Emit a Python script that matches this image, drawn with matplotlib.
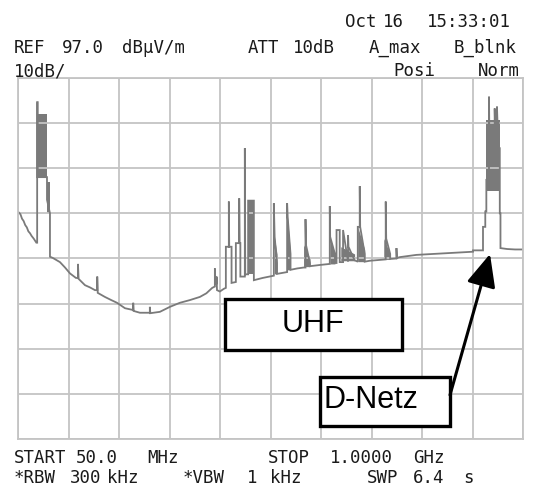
import matplotlib
matplotlib.use("Agg")
import matplotlib.pyplot as plt
import numpy as np
from matplotlib.patches import Rectangle

# analyzer settings
f_start, f_stop = 50.0, 1000.0      # MHz
ref_level, db_per_div = 97.0, 10.0
n_xdiv, n_ydiv = 10, 8

# main trace (MHz, dBuV/m)
trace_mhz = [50, 54, 57, 60, 63, 66, 69, 72, 75, 79, 84, 85.5, 85.5, 86.5, 86.5, 104, 104, 109.6, 109.6,
             115.3, 128.4, 138, 147.3, 158.5, 162.3, 162.3, 163.5, 175.5, 185, 194.3, 198.6, 198.6, 199.5,
             213, 225, 235.8, 250.8, 266.3, 266.3, 267, 278.9, 297.6, 297.6, 298.5, 316.5, 335.3, 354.1,
             373, 391.8, 404, 415, 420, 420, 421, 423.2, 423.2, 424, 429.4, 437, 440.7, 440.7, 446.3,
             446.3, 447, 451.4, 451.4, 459.5, 459.5, 465.8, 465.8, 466.5, 468, 468, 476.4, 476.4, 477.2,
             482.6, 482.6, 493.4, 493.4, 510, 530, 531, 531, 532.5, 537, 537, 556, 556, 557, 562.4, 562.4,
             575, 587, 590.6, 590.6, 591.5, 599, 599, 620, 636.3, 636.3, 637, 646, 646, 649, 649, 655,
             655, 661.3, 661.3, 670.7, 670.7, 671.5, 683, 689, 689, 692.7, 692.7, 693.5, 702.1, 702.1,
             711.5, 730.3, 738, 741.6, 741.6, 742.5, 750, 750, 761.8, 761.8, 762.6, 768, 799.4, 862,
             905.9, 905.9, 924.7, 924.7, 929, 929, 931, 931, 936, 936, 937, 946.7, 946.7, 948, 951, 951,
             952, 954, 954, 956.3, 956.3, 957.6, 957.6, 970, 985, 1000]
trace_db = [67.3, 66.8, 65.8, 65.3, 64.4, 63.9, 63.0, 62.6, 62.0, 61.4, 60.5, 60.5, 91.6, 91.6, 75, 75, 70, 67, 57.4,
            57.1, 56.2, 55.0, 53.7, 52.7, 52.7, 55.8, 52.5, 51.1, 50.6, 50.0, 50.0, 53.0, 49.4,
            48.5, 47.8, 47.2, 46.0, 45.6, 47.2, 45.4, 45.0, 45.0, 46.3, 44.9, 45.2, 46.3, 47.2,
            47.8, 48.5, 49.3, 50.5, 50.8, 54.8, 51.5, 51.5, 53.0, 50.0, 49.7, 50.3, 50.5, 59.6, 59.6,
            69.6, 59.6, 59.6, 51.6, 51.8, 60.4, 60.4, 70.3, 60.4, 60.4, 53.0, 53.0, 81.4, 53.5,
            53.5, 69.8, 69.8, 52.2, 52.7, 53.2, 53.2, 69.2, 61.8, 56.0, 53.6, 54.0, 69.2, 66.2, 58.0, 54.5,
            54.8, 55.0, 55.0, 65.7, 60.0, 56.0, 55.3, 55.6, 55.8, 68.6, 61.8, 58.0, 56.0, 56.0, 63.3, 63.3,
            56.2, 56.2, 63.3, 56.3, 62.2, 59.6, 56.6, 56.3, 64.0, 64.0, 73.0, 64.0, 58.0, 56.3,
            56.5, 56.7, 56.8, 56.8, 69.6, 61.4, 58.0, 56.9, 57.0, 59.3, 57.1, 57.3, 57.8, 58.2,
            58.5, 58.8, 58.8, 64.0, 64.0, 67.4, 67.4, 74.4, 74.4, 92.8, 80.0, 80.0, 90.2, 84.0, 84.0, 90.6,
            87.0, 87.0, 81.4, 81.4, 67.0, 67.0, 59.3, 59.1, 59.0, 59.0]

# dense bursts drawn as grey blocks: start, stop, floor, top at start, top at stop
burst_f0 = [87, 104, 482.6, 532, 556.7, 587, 636.5, 657, 689, 738, 931]
burst_f1 = [104, 109.6, 493.4, 537, 562.4, 599, 646, 683, 702, 750, 956]
burst_lo = [75, 67, 53.5, 53.6, 54.5, 55.2, 55.8, 56.5, 56.3, 56.8, 72.0]
burst_top0 = [89, 74, 69.8, 61.8, 66.2, 60.0, 61.8, 59.6, 64.0, 61.4, 87.6]
burst_top1 = [89, 74, 69.8, 58.0, 58.0, 57.0, 58.0, 58.0, 59.0, 58.0, 87.6]

W, H = 541, 487
fig = plt.figure(figsize=(W / 100, H / 100), dpi=100)
fig.patch.set_facecolor("white")

# plot frame in pixels: left 18, right 523, top 78, bottom 439
L, R, T, B = 18.3, 523.0, 77.7, 439.3
ax = fig.add_axes([L / W, 1 - B / H, (R - L) / W, (B - T) / H])
ax.set_xlim(f_start, f_stop)
ax.set_ylim(ref_level - n_ydiv * db_per_div, ref_level)
ax.set_xticks(np.linspace(f_start, f_stop, n_xdiv + 1))
ax.set_yticks(np.linspace(ref_level - n_ydiv * db_per_div, ref_level, n_ydiv + 1))
ax.tick_params(length=0, labelbottom=False, labelleft=False)
ax.grid(True, color="#c4c4c4", lw=1.3)
for s in ax.spines.values():
    s.set_color("#c4c4c4")
    s.set_linewidth(1.3)

grey = "#7a7a7a"
for f0, f1, lo, t0, t1 in zip(burst_f0, burst_f1, burst_lo, burst_top0, burst_top1):
    ax.fill_between([f0, f1], [lo, lo], [t0, t1], color=grey, lw=0)
ax.plot(trace_mhz, trace_db, color=grey, lw=1.3, solid_joinstyle="miter")

# screen annotations, pixel positions (x left, y baseline from top)
def px(x, y):
    return x / W, 1 - y / H

mono = dict(family="DejaVu Sans Mono", fontsize=12.5, color="#1a1a1a", va="baseline", ha="left")
words = [
    ("Oct", 345, 26.7), ("16", 383, 26.7), ("15:33:01", 427, 26.7),
    ("REF", 14, 53), ("97.0", 62, 53), ("dBµV/m", 122, 53), ("ATT", 248, 53), ("10dB", 293, 53),
    ("A_max", 369, 53), ("B_blnk", 454, 53),
    ("10dB/", 14, 76), ("Posi", 393, 76), ("Norm", 478, 76),
    ("START", 14, 463), ("50.0", 76, 463), ("MHz", 147, 463),
    ("STOP", 268, 463), ("1.0000", 330, 463), ("GHz", 413, 463),
    ("*RBW", 14, 483), ("300", 70, 483), ("kHz", 107, 483), ("*VBW", 183, 483), ("1", 247, 483),
    ("kHz", 270, 483), ("SWP", 367, 483), ("6.4", 413, 483), ("s", 463, 483),
]
for txt, x, y in words:
    fig.text(*px(x, y), txt, **mono)

# labelled boxes
def box(x0, y0, x1, y1):
    fig.patches.append(Rectangle(px(x0, y1), (x1 - x0) / W, (y1 - y0) / H, transform=fig.transFigure,
                                 facecolor="white", edgecolor="black", lw=2.4, zorder=5))

box(225, 299, 402, 350)
fig.text(*px(313, 331.5), "UHF", family="Liberation Sans", fontsize=22, ha="center", va="baseline", zorder=6)
box(320, 377, 450, 426)
fig.text(*px(323, 408.5), "D-Netz", family="Liberation Sans", fontsize=22, ha="left", va="baseline", zorder=6)

fig.add_artist(matplotlib.patches.FancyArrowPatch(
    (450 / W, 1 - 395 / H), (490 / W, 1 - 254 / H), transform=fig.transFigure,
    arrowstyle="-|>,head_length=1.0,head_width=0.45", mutation_scale=20,
    color="black", lw=2.2, shrinkA=0, shrinkB=0, zorder=6))

fig.savefig("out.png", dpi=100)
